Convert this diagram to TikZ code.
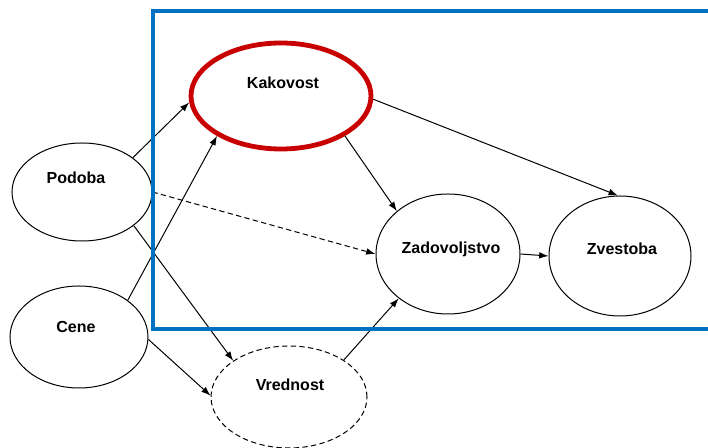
\documentclass[tikz,border=0pt]{standalone}
\usepackage{fontspec}
\setmainfont{Liberation Sans}
\usetikzlibrary{shapes.geometric,arrows.meta}
\definecolor{frameblue}{RGB}{0,112,192}
\definecolor{ovalred}{RGB}{200,0,0}
\begin{document}
\begin{tikzpicture}[x=0.75pt,y=0.75pt,yscale=-1,xscale=1,
    oval/.style={draw, ellipse, line width=0.75pt, inner sep=0pt},
    txt/.style={font=\fontsize{12}{14}\selectfont\bfseries, inner sep=0.75pt},
    link/.style={line width=0.75pt, -{Latex[length=7pt,width=5pt]}},
    frame/.style={draw=frameblue, line width=2.6pt}]
\useasboundingbox (0,0) rectangle (708,448);

%Shape: Ellipse [Kakovost]
\node[oval, draw=ovalred, line width=3.6pt, minimum width=135pt, minimum height=79.5pt] (kak) at (281,96) {};
%Shape: Ellipse [Podoba]
\node[oval, minimum width=105pt, minimum height=73.5pt] (pod) at (82,192) {};
%Shape: Ellipse [Cene]
\node[oval, minimum width=103.5pt, minimum height=76.5pt] (cen) at (79,337) {};
%Shape: Ellipse [Vrednost]
\node[oval, dash pattern=on 4pt off 2.5pt, minimum width=117pt, minimum height=76.5pt] (vre) at (289,397) {};
%Shape: Ellipse [Zadovoljstvo]
\node[oval, minimum width=108pt, minimum height=90pt] (zad) at (448,254) {};
%Shape: Ellipse [Zvestoba]
\node[oval, minimum width=106.5pt, minimum height=90pt] (zve) at (620,256) {};

%Straight Lines
\draw[link] (pod.34) -- (kak.184);
\draw[link] (cen.37) -- (kak.212);
\draw[link] (pod.-33) -- (vre.147);
\draw[link] (cen.-2) -- (vre.179);
\draw[link, dash pattern=on 4pt off 2.5pt] (pod.east) -- (zad.180);
\draw[link] (kak.-32) -- (zad.140);
\draw[link] (kak.-2) -- (zve.92);
\draw[link] (zad.east) -- (zve.west);
\draw[link] (vre.34) -- (zad.222);

%Shape: Frame
\draw[frame] (708,11) -- (153,11) -- (153,329) -- (708,329);

% Text Node
\node[txt] (kakT) at (283,83) {Kakovost};
% Text Node
\node[txt] (podT) at (76,178) {Podoba};
% Text Node
\node[txt] (cenT) at (76,327) {Cene};
% Text Node
\node[txt] (vreT) at (290,385) {Vrednost};
% Text Node
\node[txt] (zadT) at (451,249) {Zadovoljstvo};
% Text Node
\node[txt] (zveT) at (622,249) {Zvestoba};
\end{tikzpicture}
\end{document}
